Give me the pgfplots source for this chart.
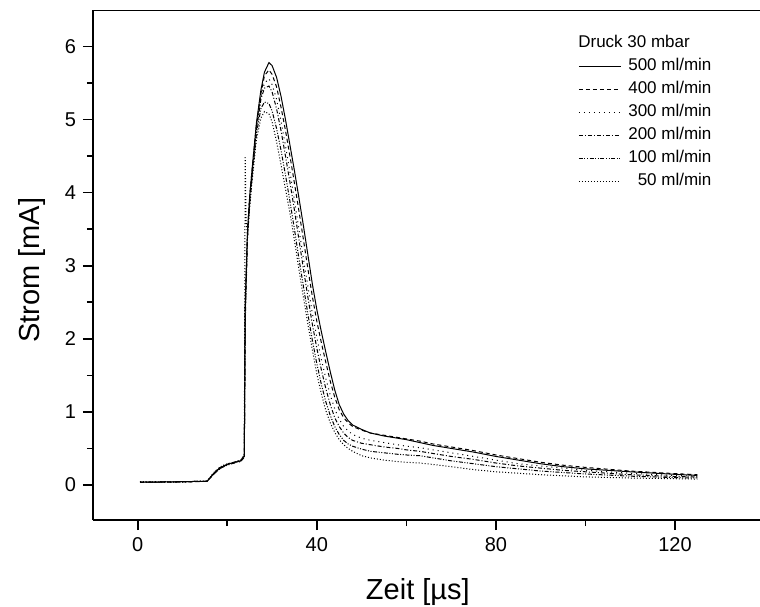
\documentclass[border=0pt]{standalone}
\usepackage{pgfplots}
\pgfplotsset{compat=1.18}
\usepackage{fontspec}
\setmainfont{Liberation Sans}
\begin{document}
\begin{tikzpicture}
\begin{axis}[
  scale only axis, width=333.5pt, height=255pt,
  xmin=-10, xmax=139, ymin=-0.48, ymax=6.5,
  axis lines=left,
  axis line style={-, line width=1pt},
  xtick={0,40,80,120}, ytick={0,1,2,3,4,5,6},
  minor x tick num=1, minor y tick num=1,
  tick align=outside, major tick length=5pt, minor tick length=3pt,
  tick style={black, line width=0.8pt},
  every tick label/.append style={font=\fontsize{10}{12}\selectfont},
  /pgf/number format/assume math mode=true,
  xlabel={\fontsize{14.5}{17}\selectfont Zeit [µs]},
  ylabel={\fontsize{14.5}{17}\selectfont Strom [mA]},
  xlabel style={at={(axis description cs:0.487,-0.141)}, anchor=center},
  ylabel style={at={(axis description cs:-0.0915,0.49)}, anchor=center},
  legend cell align=right,
  legend style={draw=none, fill=none, at={(axis description cs:0.727,0.912)}, anchor=north west,
    font=\fontsize{8.5}{10}\selectfont, row sep=0pt, inner sep=0pt,
    nodes={inner sep=0pt, text height=7.5pt, text depth=4pt},
    /tikz/every odd column/.style={column sep=3.5pt}},
  legend image code/.code={\draw[#1] (0pt,0pt) -- (21pt,0pt);},
  every axis plot/.append style={black, line width=0.5pt},
]
% 500 ml/min
\addplot[solid] coordinates {(0.5,0.04) (5,0.04) (10,0.045) (15.5,0.05) (17,0.16) (18.5,0.24) (20,0.28) (21.5,0.31) (23,0.33) (23.8,0.4)
 (24.0,2.4) (24.5,3.45) (25,3.95) (25.6,4.36) (26.5,4.95) (27.5,5.4) (28.3,5.65) (29.3,5.78) (30,5.74) (31,5.58) (32,5.32) (33,5.0) (34,4.65) (35,4.3) (36,3.93) (37,3.55) (38,3.15) (39,2.75) (40,2.4) (41,2.1) (42,1.82) (43,1.55) (44,1.3) (45,1.1) (46,0.97) (47,0.88) (48,0.82) (50,0.76) (52,0.71) (55,0.67) (58,0.64) (60,0.62) (63,0.58) (66,0.54) (70,0.5) (75,0.45) (80,0.39) (85,0.34) (90,0.29) (95,0.25) (100,0.22) (110,0.18) (120,0.145) (125,0.13)};
\addlegendentry{500 ml/min}
% 400 ml/min
\addplot[dash pattern=on 2pt off 1.5pt] coordinates {(0.5,0.035) (5,0.04) (10,0.04) (15.5,0.05) (17,0.15) (18.5,0.23) (20,0.28) (21.5,0.3) (23,0.33) (23.8,0.39)
 (24.0,2.3) (24.5,3.45) (25,3.95) (25.6,4.35) (26.5,4.92) (27.5,5.35) (28.3,5.6) (29.3,5.68) (30,5.62) (31,5.45) (32,5.17) (33,4.85) (34,4.5) (35,4.13) (36,3.75) (37,3.36) (38,2.96) (39,2.58) (40,2.24) (41,1.95) (42,1.68) (43,1.42) (44,1.2) (45,1.03) (46,0.92) (47,0.85) (48,0.8) (50,0.75) (52,0.71) (55,0.68) (58,0.65) (60,0.63) (63,0.6) (66,0.56) (70,0.52) (75,0.47) (80,0.41) (85,0.36) (90,0.31) (95,0.27) (100,0.24) (110,0.19) (120,0.155) (125,0.14)};
\addlegendentry{400 ml/min}
% 300 ml/min
\addplot[dash pattern=on 0.5pt off 2pt] coordinates {(0.5,0.04) (5,0.045) (10,0.04) (15.5,0.05) (17,0.17) (18.5,0.25) (20,0.29) (21.5,0.31) (23,0.34) (23.8,0.4)
 (24.0,2.6) (24.5,3.4) (25,3.9) (25.6,4.3) (26.5,4.88) (27.5,5.3) (28.3,5.5) (29.3,5.56) (30,5.48) (31,5.28) (32,4.98) (33,4.64) (34,4.28) (35,3.9) (36,3.5) (37,3.1) (38,2.72) (39,2.35) (40,2.02) (41,1.72) (42,1.46) (43,1.23) (44,1.04) (45,0.9) (46,0.8) (47,0.74) (48,0.69) (50,0.64) (52,0.61) (55,0.58) (58,0.55) (60,0.53) (63,0.51) (66,0.48) (70,0.44) (75,0.39) (80,0.34) (85,0.29) (90,0.26) (95,0.23) (100,0.2) (110,0.16) (120,0.13) (125,0.12)};
\addlegendentry{300 ml/min}
% 200 ml/min
\addplot[dash pattern=on 2pt off 1pt on 0.5pt off 1pt] coordinates {(0.5,0.035) (5,0.04) (10,0.045) (15.5,0.05) (17,0.16) (18.5,0.24) (20,0.28) (21.5,0.31) (23,0.33) (23.8,0.38)
 (24.0,2.5) (24.5,3.4) (25,3.88) (25.6,4.28) (26.5,4.85) (27.5,5.28) (28.3,5.43) (29.3,5.46) (30,5.38) (31,5.15) (32,4.85) (33,4.5) (34,4.14) (35,3.76) (36,3.36) (37,2.96) (38,2.57) (39,2.2) (40,1.87) (41,1.58) (42,1.32) (43,1.1) (44,0.92) (45,0.8) (46,0.71) (47,0.65) (48,0.61) (50,0.57) (52,0.55) (55,0.52) (58,0.5) (60,0.48) (63,0.46) (66,0.43) (70,0.39) (75,0.35) (80,0.3) (85,0.26) (90,0.23) (95,0.2) (100,0.18) (110,0.14) (120,0.115) (125,0.11)};
\addlegendentry{200 ml/min}
% 100 ml/min
\addplot[dash pattern=on 2pt off 0.8pt on 0.5pt off 0.8pt on 0.5pt off 0.8pt] coordinates {(0.5,0.04) (5,0.04) (10,0.045) (15.5,0.05) (17,0.15) (18.5,0.23) (20,0.27) (21.5,0.3) (23,0.32) (23.8,0.38)
 (24.0,2.2) (24.5,3.35) (25,3.85) (25.6,4.25) (26.5,4.8) (27.5,5.15) (28.3,5.24) (29.3,5.22) (30,5.12) (31,4.88) (32,4.58) (33,4.24) (34,3.88) (35,3.5) (36,3.1) (37,2.72) (38,2.34) (39,1.98) (40,1.66) (41,1.38) (42,1.14) (43,0.95) (44,0.8) (45,0.69) (46,0.61) (47,0.56) (48,0.53) (50,0.49) (52,0.46) (55,0.44) (58,0.42) (60,0.41) (63,0.4) (66,0.37) (70,0.33) (75,0.29) (80,0.25) (85,0.22) (90,0.19) (95,0.17) (100,0.15) (110,0.12) (120,0.1) (125,0.095)};
\addlegendentry{100 ml/min}
% 50 ml/min
\addplot[dash pattern=on 0.5pt off 1pt] coordinates {(0.5,0.045) (5,0.04) (10,0.04) (15.5,0.055) (17,0.17) (18.5,0.25) (20,0.29) (21.5,0.31) (23,0.34) (23.8,0.42)
 (24.0,4.5) (24.2,3.6) (24.5,3.45) (25,3.8) (25.6,4.2) (26.5,4.72) (27.5,5.02) (28.3,5.11) (29.3,5.08) (30,4.97) (31,4.7) (32,4.38) (33,4.05) (34,3.72) (35,3.35) (36,2.95) (37,2.57) (38,2.2) (39,1.85) (40,1.52) (41,1.25) (42,1.02) (43,0.85) (44,0.72) (45,0.62) (46,0.55) (47,0.5) (48,0.46) (50,0.4) (52,0.37) (55,0.34) (58,0.32) (60,0.31) (63,0.3) (66,0.28) (70,0.25) (75,0.21) (80,0.18) (85,0.16) (90,0.14) (95,0.125) (100,0.11) (110,0.095) (120,0.085) (125,0.08)};
\addlegendentry{50 ml/min}
% top axis line with small ticks
\draw[line width=1pt] (rel axis cs:0,1) -- (rel axis cs:1,1);
\pgfplotsinvokeforeach{0,20,40,60,80,100,120}{\draw[line width=0.6pt] (axis cs:#1,6.5) ++(0,-1.5pt) -- ++(0,3pt);}
\node[anchor=base west, font=\fontsize{8.5}{10}\selectfont, inner sep=0pt] at (axis description cs:0.727,0.9255) {Druck 30 mbar};
\end{axis}
\pgfresetboundingbox
\path[use as bounding box] ([xshift=-46.5pt,yshift=-43pt]current axis.south west) rectangle ([yshift=5pt]current axis.north east);
\end{tikzpicture}
\end{document}
